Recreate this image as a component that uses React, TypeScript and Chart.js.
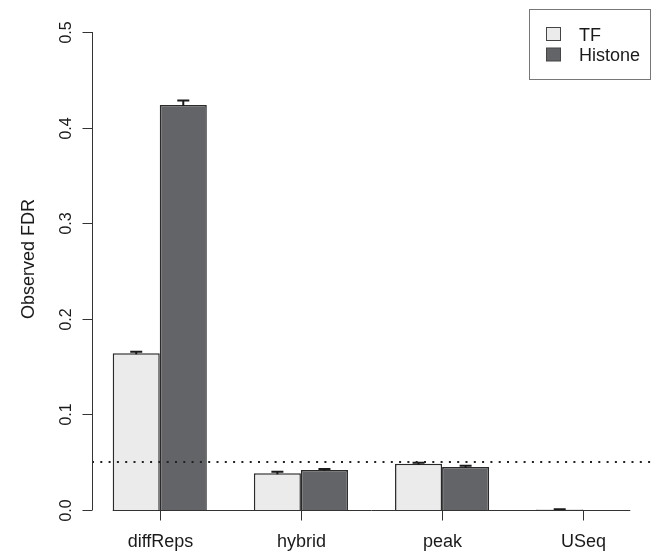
import React, { useEffect, useRef } from "react";
import { Chart, registerables } from "chart.js";

Chart.register(...registerables);

const categories = ["diffReps", "hybrid", "peak", "USeq"];
const seriesNames = ["TF", "Histone"];
const tfValues = [0.164, 0.0384, 0.0484, 0.0004];
const histoneValues = [0.4237, 0.0418, 0.045, 0.0];
const tfErrors = [0.0015, 0.0015, 0.001, 0.0003];
const histoneErrors = [0.0046, 0.0012, 0.0012, 0.0];
const yTicks = [0, 0.1, 0.2, 0.3, 0.4, 0.5];
const yTickLabels = ["0.0", "0.1", "0.2", "0.3", "0.4", "0.5"];
const fdrThreshold = 0.05;
const yTitle = "Observed FDR";

const FONT = '"Liberation Sans", Arial, Helvetica, sans-serif';
const tfColor = "#ebebeb";
const histoneColor = "#636468";

const rPlugin = {
  id: "rstyle",
  beforeDraw(chart: any) {
    const ctx = chart.ctx;
    ctx.save();
    ctx.fillStyle = "#ffffff";
    ctx.fillRect(0, 0, chart.width, chart.height);
    ctx.restore();
  },
  afterDatasetsDraw(chart: any) {
    const ctx = chart.ctx;
    const xs = chart.scales.x;
    const ys = chart.scales.y;
    const area = chart.chartArea;
    ctx.save();

    // error bars (upper only)
    const errs = [tfErrors, histoneErrors];
    const vals = [tfValues, histoneValues];
    ctx.strokeStyle = "#1a1a1a";
    ctx.lineWidth = 2;
    for (let d = 0; d < 2; d++) {
      const meta = chart.getDatasetMeta(d);
      meta.data.forEach((bar: any, i: number) => {
        const e = errs[d][i];
        if (e <= 0) return;
        const y0 = ys.getPixelForValue(vals[d][i]);
        const y1 = ys.getPixelForValue(vals[d][i] + e);
        ctx.beginPath();
        ctx.moveTo(bar.x, y0 + 1);
        ctx.lineTo(bar.x, y1);
        ctx.moveTo(bar.x - 6, y1);
        ctx.lineTo(bar.x + 6, y1);
        ctx.stroke();
      });
    }

    // dotted threshold line
    const yt = Math.round(ys.getPixelForValue(fdrThreshold));
    ctx.strokeStyle = "#222";
    ctx.lineWidth = 2;
    ctx.setLineDash([2, 6.3]);
    ctx.beginPath();
    ctx.moveTo(area.left, yt);
    ctx.lineTo(area.right, yt);
    ctx.stroke();
    ctx.setLineDash([]);

    // x axis baseline and ticks
    const m0 = chart.getDatasetMeta(0).data;
    const m1 = chart.getDatasetMeta(1).data;
    const first = m0[0];
    const last = m1[m1.length - 1];
    const yb = Math.round(ys.getPixelForValue(0)) + 0.5;
    ctx.strokeStyle = "#333";
    ctx.lineWidth = 1;
    ctx.beginPath();
    ctx.moveTo(first.x - first.width / 2, yb);
    ctx.lineTo(last.x + last.width / 2, yb);
    ctx.stroke();
    ctx.fillStyle = "#1a1a1a";
    ctx.font = `18px ${FONT}`;
    ctx.textAlign = "center";
    ctx.textBaseline = "alphabetic";
    categories.forEach((c, i) => {
      const px = Math.round(xs.getPixelForValue(i)) + 0.5;
      ctx.beginPath();
      ctx.moveTo(px, yb);
      ctx.lineTo(px, yb + 10);
      ctx.stroke();
      ctx.fillText(c, px, 547);
    });

    // y axis
    const ax = area.left + 0.5;
    ctx.beginPath();
    ctx.moveTo(ax, ys.getPixelForValue(yTicks[0]));
    ctx.lineTo(ax, ys.getPixelForValue(yTicks[yTicks.length - 1]));
    ctx.stroke();
    ctx.font = `16px ${FONT}`;
    yTicks.forEach((t, i) => {
      const py = Math.round(ys.getPixelForValue(t)) + 0.5;
      ctx.beginPath();
      ctx.moveTo(ax - 10, py);
      ctx.lineTo(ax, py);
      ctx.stroke();
      ctx.save();
      ctx.translate(71, py);
      ctx.rotate(-Math.PI / 2);
      ctx.textAlign = "center";
      ctx.fillText(yTickLabels[i], 0, 0);
      ctx.restore();
    });

    // y title
    ctx.font = `18px ${FONT}`;
    ctx.save();
    ctx.translate(34, 259);
    ctx.rotate(-Math.PI / 2);
    ctx.textAlign = "center";
    ctx.fillText(yTitle, 0, 0);
    ctx.restore();

    // legend
    ctx.strokeStyle = "#777";
    ctx.lineWidth = 1;
    ctx.strokeRect(529.5, 9.5, 121, 70);
    const colors = chart.data.datasets.map((d: any) => d.backgroundColor);
    const labels = chart.data.datasets.map((d: any) => d.label);
    labels.forEach((lab: string, i: number) => {
      const top = 27.5 + i * 20.5;
      ctx.fillStyle = colors[i];
      ctx.fillRect(546.5, top, 14, 13);
      ctx.strokeStyle = "#444";
      ctx.strokeRect(546.5, top, 14, 13);
      ctx.fillStyle = "#1a1a1a";
      ctx.textAlign = "left";
      ctx.font = `18px ${FONT}`;
      ctx.fillText(lab, 579, 40.5 + i * 20.5);
    });

    ctx.restore();
  },
};

export default function App() {
  const ref = useRef<HTMLCanvasElement | null>(null);
  useEffect(() => {
    if (!ref.current) return;
    const chart = new Chart(ref.current, {
      type: "bar",
      data: {
        datasets: [
          {
            label: seriesNames[0],
            data: tfValues.map((v, i) => ({ x: i, y: v })),
            backgroundColor: tfColor,
            borderColor: "#2a2a2a",
            borderWidth: 1.5,
          },
          {
            label: seriesNames[1],
            data: histoneValues.map((v, i) => ({ x: i, y: v })),
            backgroundColor: histoneColor,
            borderColor: "#2a2a2a",
            borderWidth: 1.5,
          },
        ],
      },
      options: {
        animation: false,
        responsive: false,
        devicePixelRatio: 1,
        categoryPercentage: 2 / 3,
        barPercentage: 1,
        layout: { padding: { left: 92, right: 0, top: 32, bottom: 41 } },
        scales: {
          x: {
            type: "linear",
            min: -0.48,
            max: 3.48,
            offset: false,
            display: false,
            afterBuildTicks: (scale: any) => {
              scale.ticks = categories.map((_, i) => ({ value: i }));
            },
          },
          y: { type: "linear", min: 0, max: 0.5, display: false },
        },
        plugins: { legend: { display: false }, tooltip: { enabled: false } },
      } as any,
      plugins: [rPlugin],
    });
    return () => chart.destroy();
  }, []);
  return (
    <div style={{ position: "fixed", left: 0, top: 0, width: 651, height: 551, background: "#fff" }}>
      <canvas ref={ref} width={651} height={551} style={{ width: 651, height: 551, display: "block" }} />
    </div>
  );
}
